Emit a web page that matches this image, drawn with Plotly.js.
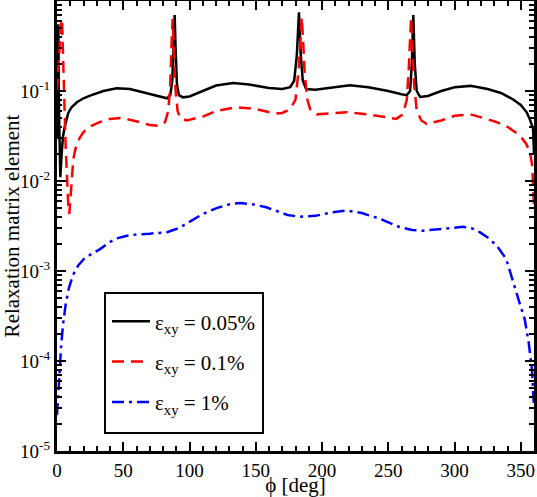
<!DOCTYPE html>
<html>
<head>
<meta charset="utf-8">
<script src="https://cdn.plot.ly/plotly-3.0.1.min.js"></script>
<style>html,body{margin:0;padding:0;background:#fff}#chart{width:537px;height:497px}</style>
</head>
<body>
<div id="chart"></div>
<script>
// ε_xy = 0.05 %
var phiBlack = [0,0.5,1.0,1.5,2.0,2.5,3.5,4.5,6,8.5,11,15,20,25,35,45,55,62,70,78,83,85.5,87,88,88.8,89.5,90.5,92,95,100,110,120,133,145,160,170,176,179,181,182.6,184,185.5,188,195,205,221,235,250,260,264,266.5,267.8,268.9,270,271.5,274,280,290,300,312,325,335,344,350,354.5,357,359.3,360];
var valBlack = [0.03,0.15,0.55,0.06,0.012,0.011,0.02,0.031,0.041,0.057,0.066,0.075,0.083,0.089,0.1,0.107,0.105,0.099,0.091,0.085,0.083,0.09,0.13,0.3,0.7,0.3,0.12,0.09,0.085,0.087,0.1,0.115,0.123,0.118,0.108,0.105,0.11,0.13,0.25,0.75,0.25,0.13,0.105,0.103,0.108,0.116,0.11,0.1,0.092,0.09,0.1,0.2,0.7,0.2,0.1,0.086,0.088,0.1,0.11,0.114,0.105,0.095,0.081,0.07,0.058,0.048,0.038,0.02];
// ε_xy = 0.1 %
var phiRed = [0,1,2,3,3.8,4.6,5.5,6.5,7.5,8.5,9.3,10.2,11.2,12.3,14,17,20,26,32,40,47.5,55,62.6,70,77.7,81.5,84,85.5,86.5,87.3,88.2,89.5,91,93,98,110,120,135,150,165,170,176,180,182.5,183.8,184.7,185.6,187,189,191,196,205,218.6,235,250,256,261,264,265.5,266.4,267.2,268,269.5,271.5,275,279,290,300,312,322,332,340,349.4,354,357,358.7,359.5,360];
var valRed = [0.1,0.2,0.35,0.55,0.63,0.3,0.08,0.025,0.01,0.0055,0.0043,0.007,0.012,0.0175,0.023,0.03,0.035,0.041,0.045,0.049,0.05,0.048,0.045,0.042,0.041,0.045,0.06,0.12,0.35,0.63,0.3,0.1,0.06,0.05,0.047,0.052,0.06,0.066,0.063,0.056,0.057,0.063,0.08,0.18,0.4,0.66,0.4,0.15,0.08,0.063,0.055,0.056,0.058,0.055,0.05,0.049,0.055,0.08,0.18,0.4,0.66,0.35,0.12,0.06,0.047,0.043,0.047,0.053,0.055,0.05,0.045,0.04,0.032,0.026,0.021,0.0146,0.009,0.005];
// ε_xy = 1 %
var phiBlue = [0,1,2,3,4.5,6.5,9,12,16,21,26,32.5,40,45,52,60,70,83,92,100,110,120.5,130,138,148,158,168,174,183,195,208,218.6,230,243.8,258,268,276,290,306.6,314,319,326,332,339,345.6,350,353,356,358.5,360];
var valBlue = [2.5e-5,4e-5,7.5e-5,1.4e-4,2.5e-4,4.2e-4,6.5e-4,9e-4,1.15e-3,1.4e-3,1.55e-3,1.75e-3,2.1e-3,2.3e-3,2.45e-3,2.55e-3,2.6e-3,2.7e-3,3e-3,3.5e-3,4.3e-3,5.0e-3,5.5e-3,5.7e-3,5.5e-3,5.1e-3,4.5e-3,4.2e-3,4.0e-3,4.1e-3,4.5e-3,4.7e-3,4.4e-3,3.8e-3,3.1e-3,2.85e-3,2.8e-3,2.95e-3,3.1e-3,2.95e-3,2.7e-3,2.3e-3,1.9e-3,1.36e-3,6.3e-4,4e-4,2.9e-4,1.6e-4,8e-5,3e-5];

var seriesNames = ['ε<sub>xy</sub> = 0.05%','ε<sub>xy</sub> = 0.1%','ε<sub>xy</sub> = 1%'];
var xTickVals = [0,50,100,150,200,250,300,350];
var yTickVals = [1e-5,1e-4,1e-3,1e-2,1e-1];
var yTickText = ['10<sup>-5</sup>','10<sup>-4</sup>','10<sup>-3</sup>','10<sup>-2</sup>','10<sup>-1</sup>'];

var minorY = [];
for (var k = -5; k < 0; k++) { for (var m = 2; m <= 9; m++) { minorY.push(m * Math.pow(10, k)); } }

var FONT = 'Liberation Serif';

var traces = [
  {x: phiBlack, y: valBlack, mode: 'lines', name: seriesNames[0], legendgroup: 'a',
   line: {color: '#000000', width: 2.5}},
  {x: phiRed, y: valRed, mode: 'lines', name: seriesNames[1], legendgroup: 'b',
   line: {color: '#ff0000', width: 2.5, dash: '12px,7px'}},
  {x: phiBlue, y: valBlue, mode: 'lines', name: seriesNames[2], legendgroup: 'c',
   line: {color: '#0000ff', width: 2.5, dash: '12px,5px,3px,5px'}}
];

var layout = {
  width: 537, height: 497,
  margin: {l: 57, r: 3, t: 1, b: 46, pad: 0},
  paper_bgcolor: '#ffffff', plot_bgcolor: '#ffffff',
  font: {family: FONT, size: 18, color: '#000'},
  showlegend: true,
  legend: {
    x: 0.1048, y: 0.333, xanchor: 'left', yanchor: 'top',
    borderwidth: 0, bgcolor: 'rgba(0,0,0,0)',
    font: {family: FONT, size: 21, color: '#000'},
    itemwidth: 38, tracegroupgap: 10
  },
  shapes: [{
    type: 'rect', xref: 'paper', yref: 'paper', layer: 'above',
    x0: 0.1006, x1: 0.4319, y0: 0.04, y1: 0.351,
    line: {color: '#000', width: 2}, fillcolor: '#fff'
  }],
  xaxis: {
    range: [0, 360], tickvals: xTickVals,
    ticks: 'inside', ticklen: 9, tickwidth: 2, tickcolor: '#000',
    showline: true, linewidth: 3, linecolor: '#000', mirror: 'allticks',
    showgrid: false, zeroline: false,
    tickfont: {family: FONT, size: 19},
    minor: {dtick: 10, ticks: 'inside', ticklen: 5, tickwidth: 2, tickcolor: '#000', showgrid: false},
    title: {text: 'ϕ [deg]', font: {family: FONT, size: 21}, standoff: 2}
  },
  yaxis: {
    type: 'log', range: [-5, 0],
    tickmode: 'array', tickvals: yTickVals, ticktext: yTickText,
    ticks: 'inside', ticklen: 9, tickwidth: 2, tickcolor: '#000',
    showline: true, linewidth: 3, linecolor: '#000', mirror: 'allticks',
    showgrid: false, zeroline: false,
    tickfont: {family: FONT, size: 19},
    minor: {tickmode: 'array', tickvals: minorY, ticks: 'inside', ticklen: 5, tickwidth: 2, tickcolor: '#000', showgrid: false},
    title: {text: 'Relaxation matrix element', font: {family: FONT, size: 21}, standoff: 1}
  }
};

Plotly.newPlot('chart', traces, layout, {staticPlot: true, displayModeBar: false});
</script>
</body>
</html>
